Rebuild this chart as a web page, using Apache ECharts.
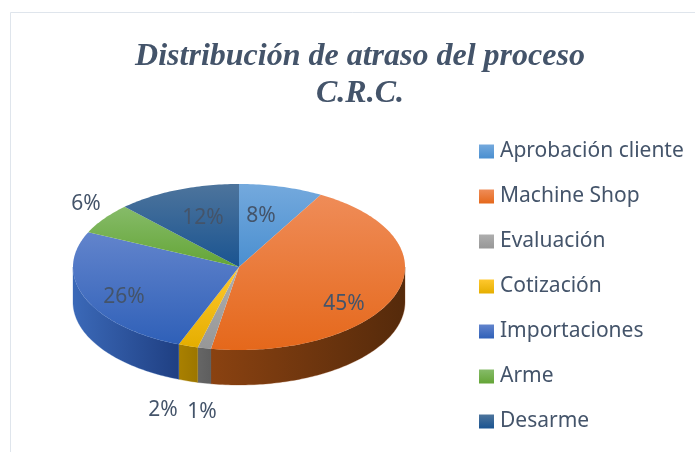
<!DOCTYPE html>
<html>
<head>
<meta charset="utf-8">
<style>html,body{margin:0;padding:0;background:#fff}#main{width:695px;height:452px}</style>
<script src="https://cdn.jsdelivr.net/npm/echarts@6/dist/echarts.min.js"></script>
</head>
<body>
<div id="main"></div>
<script>
var categories = ['Aprobación cliente', 'Machine Shop', 'Evaluación', 'Cotización', 'Importaciones', 'Arme', 'Desarme']
var values = [8.2, 44.5, 1.3, 1.9, 26, 6, 12.1]

// top face gradient, side wall gradient
var topColors = [['#74a9dd', '#4a8fd0'], ['#ef8c58', '#e5681b'], ['#aeaeae', '#979797'], ['#ffc82e', '#e5ae00'], ['#6284cc', '#2f60b8'], ['#86bb69', '#64a536'], ['#4d749c', '#1a5491']]
var sideColors = [['#3a6d9e', '#3a6d9e'], ['#8a4211', '#552a0b'], ['#666666', '#5e5e5e'], ['#a98000', '#9c7600'], ['#3b69b8', '#1f3f82'], ['#4e7d2c', '#4e7d2c'], ['#153f6e', '#153f6e']]

// label anchors, same order as categories
var labelAt = [[261, 216], [344, 304], [202, 412], [163, 410], [124, 297], [86, 204], [203, 218]]

var cx = 239, cy = 267, rx = 166, ry = 83, depth = 35
var fontName = '"Noto Sans"'
var textColor = '#44546A'

function pt (deg, dy) {
  var a = deg * Math.PI / 180
  return [cx + rx * Math.sin(a), cy - ry * Math.cos(a) + (dy || 0)]
}

function arc (from, to, dy) {
  var pts = []
  var n = Math.max(2, Math.ceil(Math.abs(to - from)))
  for (var i = 0; i <= n; i++) {
    pts.push(pt(from + (to - from) * i / n, dy))
  }
  return pts
}

function vGrad (c) {
  return { type: 'linear', x: 0, y: 0, x2: 0, y2: 1, colorStops: [{ offset: 0, color: c[0] }, { offset: 1, color: c[1] }] }
}

function hGrad (c) {
  return { type: 'linear', x: 0, y: 0, x2: 1, y2: 0, colorStops: [{ offset: 0, color: c[0] }, { offset: 1, color: c[1] }] }
}

var total = values.reduce(function (s, v) { return s + v }, 0)
var running = 0
var seriesList = categories.map(function (name, idx) {
  var start = running / total * 360
  running += values[idx]
  var end = running / total * 360
  return {
    name: name,
    type: 'custom',
    coordinateSystem: 'none',
    silent: true,
    animation: false,
    data: [[start, end, values[idx]]],
    renderItem: function (params, api) {
      var a0 = api.value(0), a1 = api.value(1)
      var kids = []
      var s0 = Math.max(a0, 90), s1 = Math.min(a1, 270)
      if (s1 > s0) {
        var side = arc(s0, s1, 0).concat(arc(s1, s0, depth))
        kids.push({
          type: 'polygon',
          z2: 1,
          shape: { points: side },
          style: { fill: hGrad(sideColors[idx]), stroke: sideColors[idx][0], lineWidth: 0.3 }
        })
      }
      kids.push({
        type: 'polygon',
        z2: 2,
        shape: { points: [[cx, cy]].concat(arc(a0, a1, 0)) },
        style: { fill: vGrad(topColors[idx]) }
      })
      kids.push({
        type: 'text',
        z2: 3,
        x: labelAt[idx][0],
        y: labelAt[idx][1],
        style: {
          text: Math.round(api.value(2)) + '%',
          fontFamily: fontName,
          fontSize: 21,
          fill: textColor,
          align: 'center',
          verticalAlign: 'middle'
        }
      })
      return { type: 'group', children: kids }
    }
  }
})

var myChart = echarts.init(document.getElementById('main'), null, { renderer: 'canvas' })
var option = {
  backgroundColor: '#fff',
  animation: false,
  title: {
    text: 'Distribución de atraso del proceso\nC.R.C.',
    left: 355,
    top: 33,
    textAlign: 'center',
    textStyle: {
      fontFamily: '"Liberation Serif"',
      fontStyle: 'italic',
      fontWeight: 'bold',
      fontSize: 32,
      lineHeight: 37,
      color: textColor
    }
  },
  legend: {
    orient: 'vertical',
    left: 474,
    top: 136,
    icon: 'rect',
    itemWidth: 15,
    itemHeight: 14,
    itemGap: 24,
    selectedMode: false,
    textStyle: { fontFamily: fontName, fontSize: 21, color: textColor, padding: [0, 0, 0, 1] },
    data: categories.map(function (name, i) {
      return { name: name, itemStyle: { color: vGrad(topColors[i]) } }
    })
  },
  graphic: [
    { type: 'line', shape: { x1: 10.5, y1: 12.5, x2: 695, y2: 12.5 }, style: { stroke: '#dfe5ec', lineWidth: 1 } },
    { type: 'line', shape: { x1: 10.5, y1: 12.5, x2: 10.5, y2: 452 }, style: { stroke: '#dfe5ec', lineWidth: 1 } }
  ],
  series: seriesList
}
myChart.setOption(option)
</script>
</body>
</html>
